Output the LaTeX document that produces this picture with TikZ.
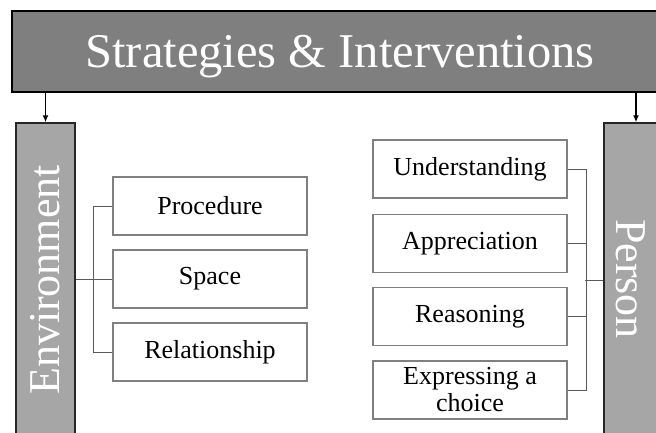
\documentclass[tikz,border=0pt]{standalone}
\usepackage{fontspec}
\setmainfont{Liberation Serif}
\usetikzlibrary{arrows.meta}

\definecolor{titlegray}{HTML}{7F7F7F}
\definecolor{sidegray}{HTML}{A6A6A6}
\definecolor{edgegray}{HTML}{808080}
\definecolor{wiregray}{HTML}{5A5A5A}

\tikzset{
  titlebox/.style={draw=black, line width=2pt, fill=titlegray, text=white,
    minimum width=656, minimum height=81, inner sep=0pt, text depth=0pt,
    font=\fontsize{48.5}{50}\selectfont},
  sidebox/.style={draw=black!85, line width=1.4pt, fill=sidegray, inner sep=0pt},
  sidetext/.style={text=white, inner sep=0pt, font=\fontsize{44}{46}\selectfont},
  itembox/.style={draw=edgegray, line width=1.1pt, fill=white, align=center,
    minimum width=194, minimum height=58, inner sep=0pt,
    font=\fontsize{26}{27}\selectfont},
  wire/.style={draw=wiregray, line width=1pt},
  feed/.style={line width=1.5pt, -{Latex[length=7pt,width=6pt]}}
}

\begin{document}
\begin{tikzpicture}[x=1pt, y=-1pt]
  \useasboundingbox (0,0) rectangle (656,432);
  \clip (0,0) rectangle (656,432);
  \fill[white] (0,0) rectangle (656,432);

  % heading and the two pillars
  \node[titlebox] (title) at (340,51.5) {Strategies \& Interventions};
  \node[sidebox, minimum width=59, minimum height=314] (env) at (45.5,280) {};
  \node[sidetext, rotate=90] (envtext) at (env.center) {Environment};
  \node[sidebox, minimum width=64, minimum height=314] (person) at (636,280) {};
  \node[sidetext, rotate=-90] (persontext) at (631,279) {Person};

  \draw[feed] (title.south -| env.north) -- (env.north);
  \draw[feed] (title.south -| person.north) -- (person.north);

  % environment side
  \node[itembox] (proc) at (210,206) {Procedure};
  \node[itembox] (space) at (210,279) {Space};
  \node[itembox] (rel) at (210,352) {Relationship};

  \draw[wire] (proc.west) -- ++(-19,0) |- (rel.west);
  \draw[wire] (env.east |- space.west) -- (space.west);

  % person side
  \node[itembox] (und) at (470,169) {Understanding};
  \node[itembox] (appr) at (470,243.5) {Appreciation};
  \node[itembox] (reas) at (470,316.5) {Reasoning};
  \node[itembox] (expr) at (470,390) {Expressing a\\choice};

  \draw[wire] (und.east) -- ++(19,0) |- (expr.east);
  \draw[wire] (appr.east) -- ++(19,0);
  \draw[wire] (reas.east) -- ++(19,0);
  \draw[wire] (person.west) -- ++(-18,0);
\end{tikzpicture}
\end{document}
